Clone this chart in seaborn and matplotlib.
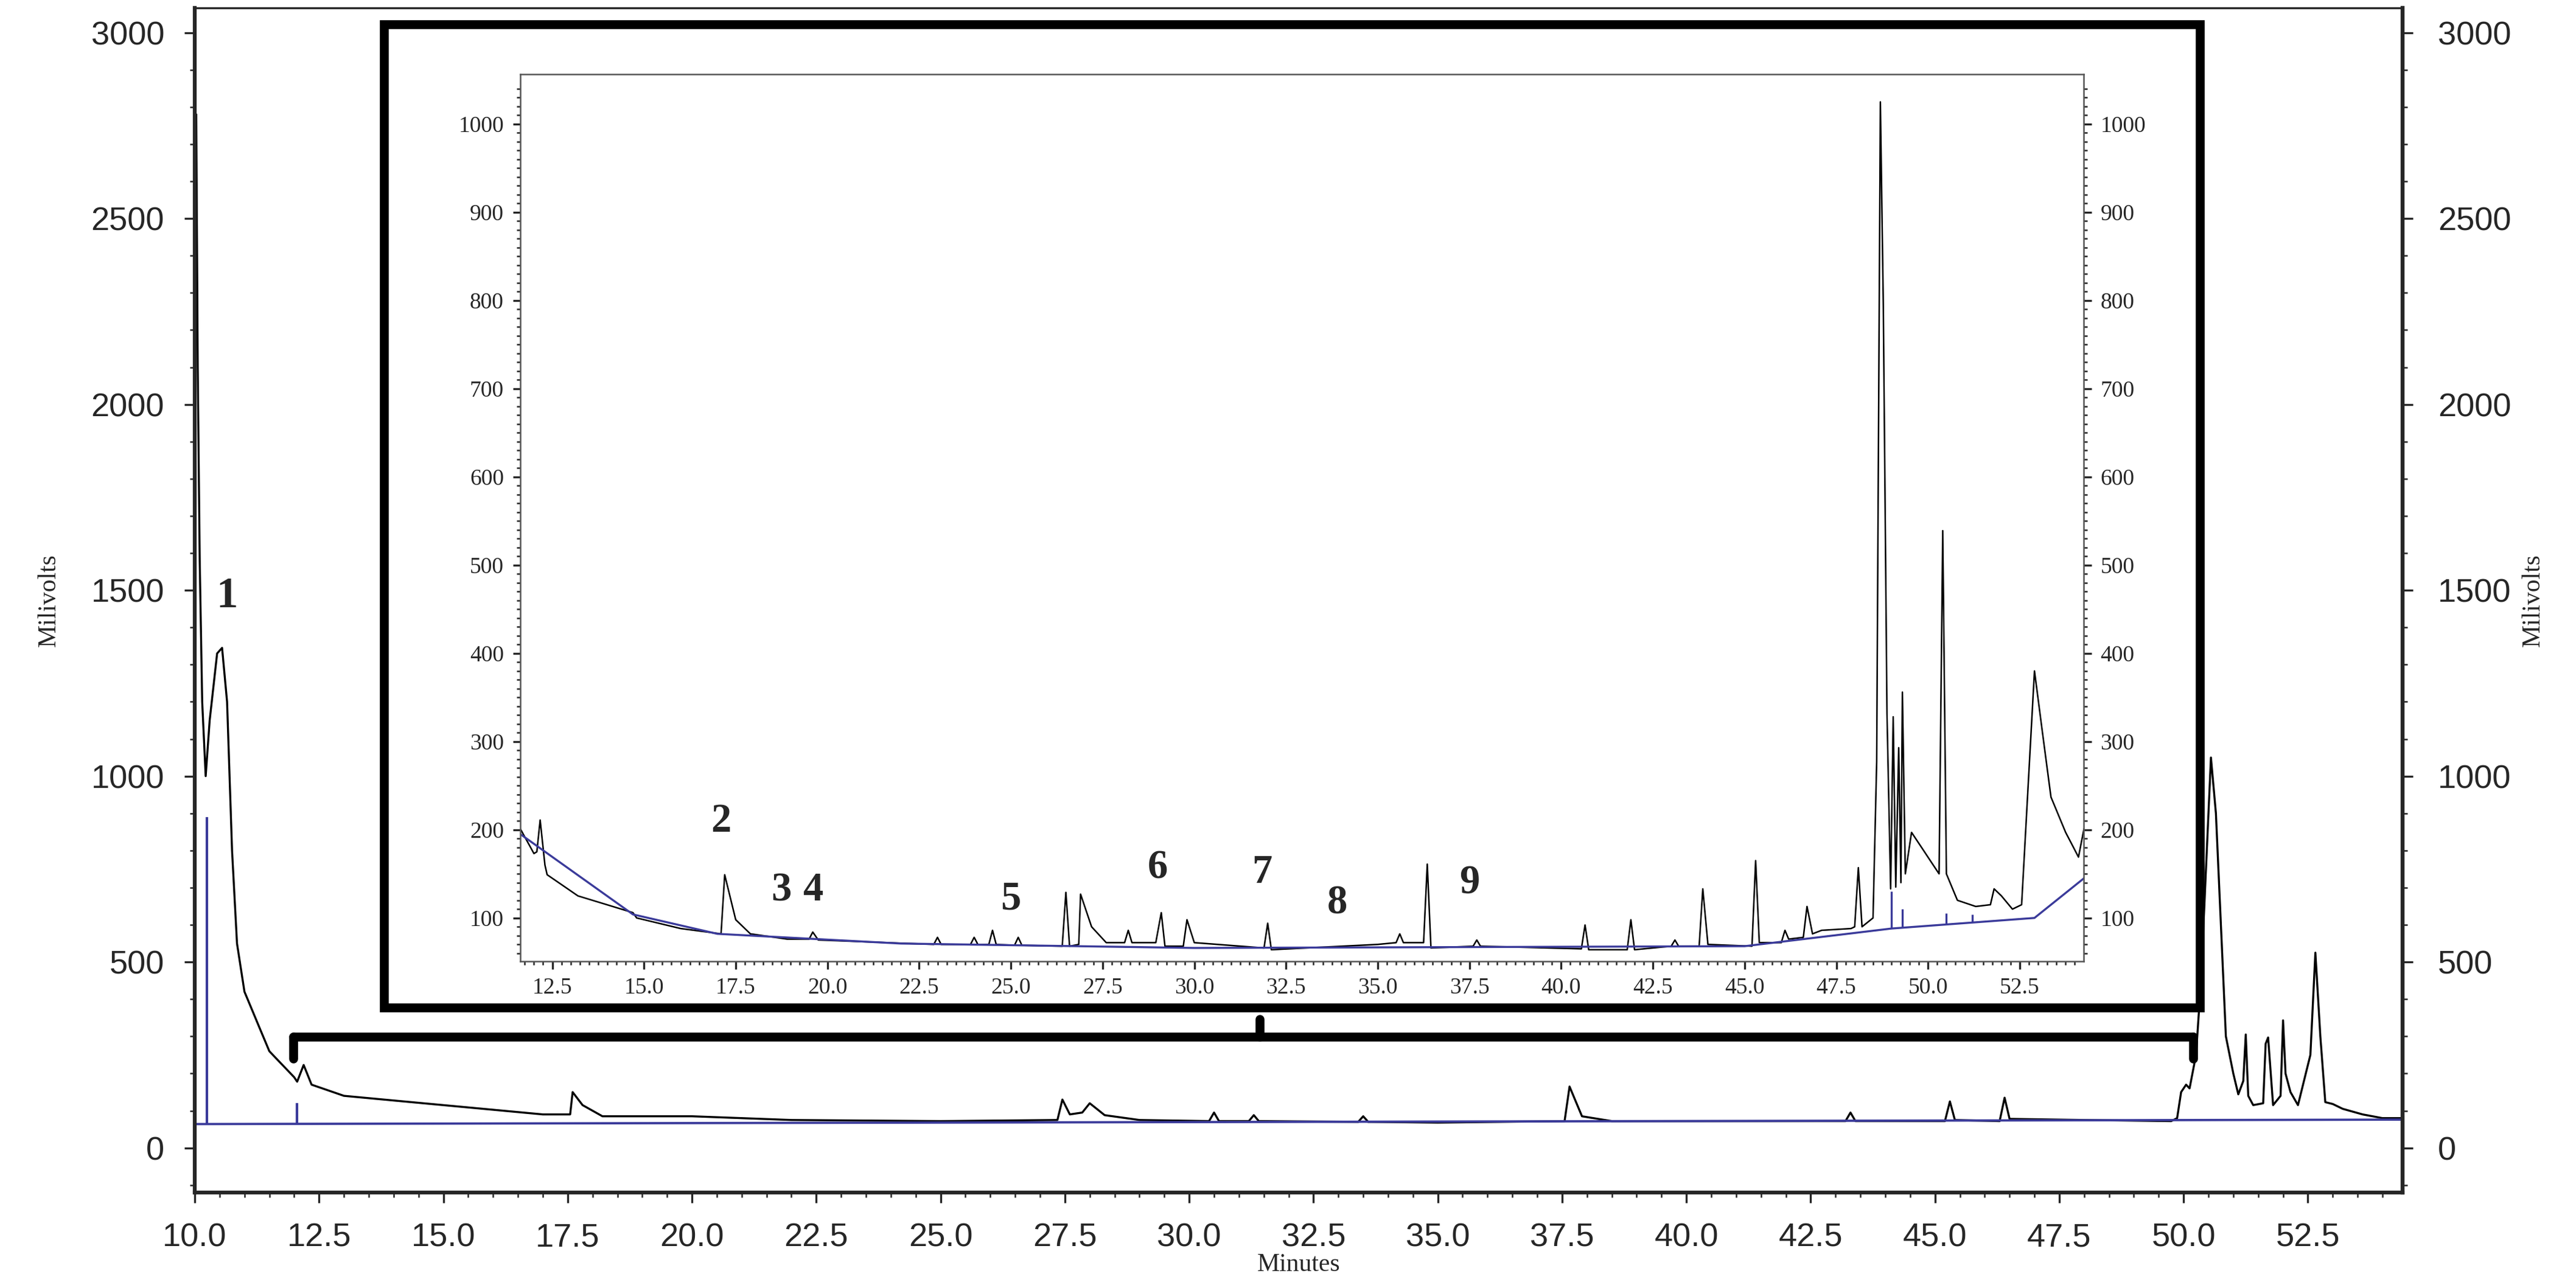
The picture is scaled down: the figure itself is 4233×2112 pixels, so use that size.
"""
Chromatogram with zoomed inset
"""
import numpy as np
import matplotlib
matplotlib.use('Agg')
import matplotlib.pyplot as plt
import seaborn as sns
from matplotlib.lines import Line2D
from matplotlib.patches import Rectangle

sns.set_style("ticks")
plt.rcParams['font.family'] = ['Liberation Serif', 'DejaVu Serif']
TICK_FONT = ['Liberation Sans', 'DejaVu Sans']

# ---- main trace (minutes, millivolts) ----
main_t = [10.0, 10.03, 10.06, 10.1, 10.15, 10.22, 10.3, 10.45, 10.55, 10.65, 10.75, 10.85, 11.0, 11.5,
          12.0, 12.06, 12.19, 12.35, 13.0, 15.0, 17.0, 17.55, 17.6, 17.8, 18.2, 20.0, 22.0, 25.0,
          27.35, 27.45, 27.6, 27.85, 28.0, 28.3, 29.0, 30.4, 30.5, 30.6, 31.2, 31.3, 31.4, 33.4, 33.5,
          33.6, 35.0, 37.55, 37.65, 37.9, 38.5, 42.0, 43.2, 43.3, 43.4, 45.2, 45.3, 45.4, 46.3, 46.4,
          46.5, 48.0, 49.75, 49.87, 49.95, 50.05, 50.12, 50.25, 50.35, 50.45, 50.55, 50.65, 50.75,
          50.85, 51.0, 51.1, 51.2, 51.25, 51.3, 51.4, 51.6, 51.65, 51.7, 51.8, 51.95, 52.0, 52.05,
          52.15, 52.3, 52.55, 52.65, 52.75, 52.85, 53.0, 53.2, 53.6, 54.0, 54.4]
main_mv = [2780, 2780, 2100, 1580, 1200, 1000, 1150, 1330, 1345, 1200, 800, 550, 420, 260,
           190, 178, 223, 170, 140, 115, 90, 90, 150, 115, 85, 85, 75, 72,
           75, 130, 90, 95, 120, 88, 75, 72, 95, 72, 72, 88, 72, 70, 85,
           70, 68, 72, 165, 85, 72, 72, 72, 95, 72, 72, 125, 75, 72, 135,
           78, 75, 72, 80, 150, 170, 160, 250, 450, 750, 1050, 900, 600,
           300, 200, 144, 180, 305, 140, 115, 120, 280, 297, 115, 140, 343, 200,
           150, 115, 250, 525, 300, 123, 118, 105, 90, 80, 80]
main_base_t = [10.0, 54.4]
main_base_mv = [64, 76]
main_drop_t = [10.24, 12.06]
main_drop_mv = [890, 121]

# ---- inset trace ----
ins_t = [11.63, 12.0, 12.08, 12.17, 12.3, 12.36, 13.2, 14.7, 14.8, 16.0, 17.1, 17.2, 17.5, 17.9,
         18.9, 19.5, 19.6, 19.75, 22.25, 22.9, 23.0, 23.1, 23.9, 24.0, 24.1, 24.4, 24.5, 24.6,
         25.1, 25.2, 25.3, 26.4, 26.5, 26.6, 26.85, 26.9, 27.2, 27.6, 28.1, 28.2, 28.3, 28.95,
         29.1, 29.2, 29.7, 29.8, 30.0, 31.9, 32.0, 32.1, 35.0, 35.5, 35.6, 35.7, 36.25, 36.35,
         36.45, 37.6, 37.7, 37.8, 40.55, 40.65, 40.75, 41.8, 41.9, 42.0, 43.0, 43.1, 43.2, 43.76,
         43.86, 44.0, 45.2, 45.3, 45.4, 46.0, 46.1, 46.2, 46.6, 46.7, 46.85, 47.1, 47.9, 48.0,
         48.1, 48.2, 48.5, 48.6, 48.7, 48.78, 48.88, 48.98, 49.05, 49.12, 49.2, 49.26, 49.3, 49.38,
         49.55, 50.3, 50.4, 50.5, 50.8, 51.3, 51.7, 51.8, 52.0, 52.3, 52.55, 52.9, 53.1, 53.35,
         53.75, 54.1, 54.25]
ins_mv = [201, 173, 175, 211, 160, 149, 125, 106, 100, 88, 82, 149, 98, 82,
          76, 76, 84, 75, 71, 70, 78, 70, 70, 78, 70, 70, 86, 70,
          69, 78, 69, 68, 129, 68, 70, 127, 90, 72, 72, 86, 72, 72,
          106, 68, 68, 98, 72, 66, 94, 64, 70, 72, 82, 72, 72, 161,
          66, 68, 75, 68, 65, 92, 64, 64, 98, 64, 68, 75, 68, 68,
          133, 70, 68, 165, 72, 72, 86, 76, 78, 113, 82, 86, 88, 90,
          157, 90, 100, 277, 1025, 794, 332, 133, 328, 135, 293, 140, 356, 150,
          197, 150, 539, 150, 120, 113, 115, 133, 125, 110, 115, 380, 316, 237,
          197, 169, 201]
ins_base_t = [11.63, 14.7, 17.0, 22.0, 30.0, 45.0, 49.0, 52.9, 54.25]
ins_base_mv = [195, 104, 82, 71, 66, 68, 88, 100, 145]
ins_drop_t = [49.0, 49.3, 50.5, 51.2]
ins_drop_mv = [130, 110, 105, 104]

# (label, minutes, mV)
ins_labels = [('2', 17.1, 188), ('3', 18.75, 110), ('4', 19.6, 110), ('5', 25.0, 100),
              ('6', 29.0, 135), ('7', 31.85, 130), ('8', 33.9, 95), ('9', 37.5, 118)]

W, H = 4233 / 300, 2112 / 300
fig = plt.figure(figsize=(W, H), dpi=300)

# ---------------- main axes ----------------
ax = fig.add_axes([0.0756, 0.072, 0.857, 0.922])
sns.lineplot(x=main_t, y=main_mv, ax=ax, color='black', lw=0.8, sort=False, estimator=None)
ax.plot(main_base_t, main_base_mv, color='#3a3a9a', lw=0.9)
ax.vlines(main_drop_t, [64, 64], main_drop_mv, color='#3a3a9a', lw=1.0)
ax.set_xlim(10.0, 54.4)
ax.set_ylim(-120, 3067)
xt = np.arange(10.0, 53.0, 2.5)
ax.set_xticks(xt)
ax.set_xticklabels([f'{v:.1f}' for v in xt], family=TICK_FONT)
ax.set_yticks(np.arange(0, 3001, 500))
ax.set_yticklabels([str(v) for v in range(0, 3001, 500)], family=TICK_FONT)
ax.set_yticks(np.arange(-100, 3050, 100), minor=True)
ax.set_xticks(np.arange(10.0, 54.4, 0.5), minor=True)
ax.tick_params(labelsize=13, length=4, pad=8)
ax.tick_params(which='minor', length=2)
ax.set_xlabel('Minutes', fontsize=10, labelpad=0)
ax.set_ylabel('Milivolts', fontsize=10, labelpad=12)
for s in ax.spines.values():
    s.set_linewidth(0.7)
ax.spines['left'].set_linewidth(1.5)
ax.spines['bottom'].set_linewidth(1.5)
ax.spines['right'].set_linewidth(1.5)
ax.text(10.65, 1430, '1', fontsize=17, fontweight='bold', ha='center', va='bottom')

axr = ax.twinx()
axr.set_ylim(ax.get_ylim())
axr.set_yticks(np.arange(0, 3001, 500))
axr.set_yticklabels([str(v) for v in range(0, 3001, 500)], family=TICK_FONT)
axr.set_yticks(np.arange(-100, 3050, 100), minor=True)
axr.tick_params(labelsize=13, length=4, pad=10)
axr.tick_params(which='minor', length=2)
axr.set_ylabel('Milivolts', fontsize=10, labelpad=4)
axr.spines['right'].set_linewidth(1.5)

# ---------------- inset frame and brace ----------------
fig.add_artist(Rectangle((0.149, 0.216), 0.705, 0.765, transform=fig.transFigure,
                         fill=False, lw=3.5, ec='black'))
brace_y, brace_l, brace_r, brace_m = 0.193, 0.1138, 0.8515, 0.489
fig.add_artist(Line2D([brace_l, brace_r], [brace_y, brace_y], transform=fig.transFigure, color='black', lw=3.5))
fig.add_artist(Line2D([brace_l, brace_l], [brace_y, 0.176], transform=fig.transFigure, color='black', lw=3.5))
fig.add_artist(Line2D([brace_r, brace_r], [brace_y, 0.176], transform=fig.transFigure, color='black', lw=3.5))
fig.add_artist(Line2D([brace_m, brace_m], [brace_y, 0.207], transform=fig.transFigure, color='black', lw=3.5))

# ---------------- inset axes ----------------
ai = fig.add_axes([0.202, 0.252, 0.607, 0.69])
sns.lineplot(x=ins_t, y=ins_mv, ax=ai, color='black', lw=0.6, sort=False, estimator=None)
ai.plot(ins_base_t, ins_base_mv, color='#3a3a9a', lw=0.8)
ai.vlines(ins_drop_t, np.interp(ins_drop_t, ins_base_t, ins_base_mv), ins_drop_mv, color='#3a3a9a', lw=0.8)
ai.set_xlim(11.63, 54.25)
ai.set_ylim(51, 1056)
ai.set_xticks(np.arange(12.5, 53.0, 2.5))
ai.set_xticklabels([f'{v:.1f}' for v in np.arange(12.5, 53.0, 2.5)])
ai.set_yticks(np.arange(100, 1001, 100))
ai.set_yticks(np.arange(60, 1050, 10), minor=True)
ai.set_xticks(np.arange(11.75, 54.25, 0.25), minor=True)
ai.tick_params(labelsize=9, length=3, right=True, labelright=True)
ai.tick_params(which='minor', length=1.5, right=True)
for s in ai.spines.values():
    s.set_linewidth(0.6)
    s.set_color('#555555')
for lab, t, mv in ins_labels:
    ai.text(t, mv, lab, fontsize=16, fontweight='bold', ha='center', va='bottom')

plt.savefig('out.png', dpi=300)
